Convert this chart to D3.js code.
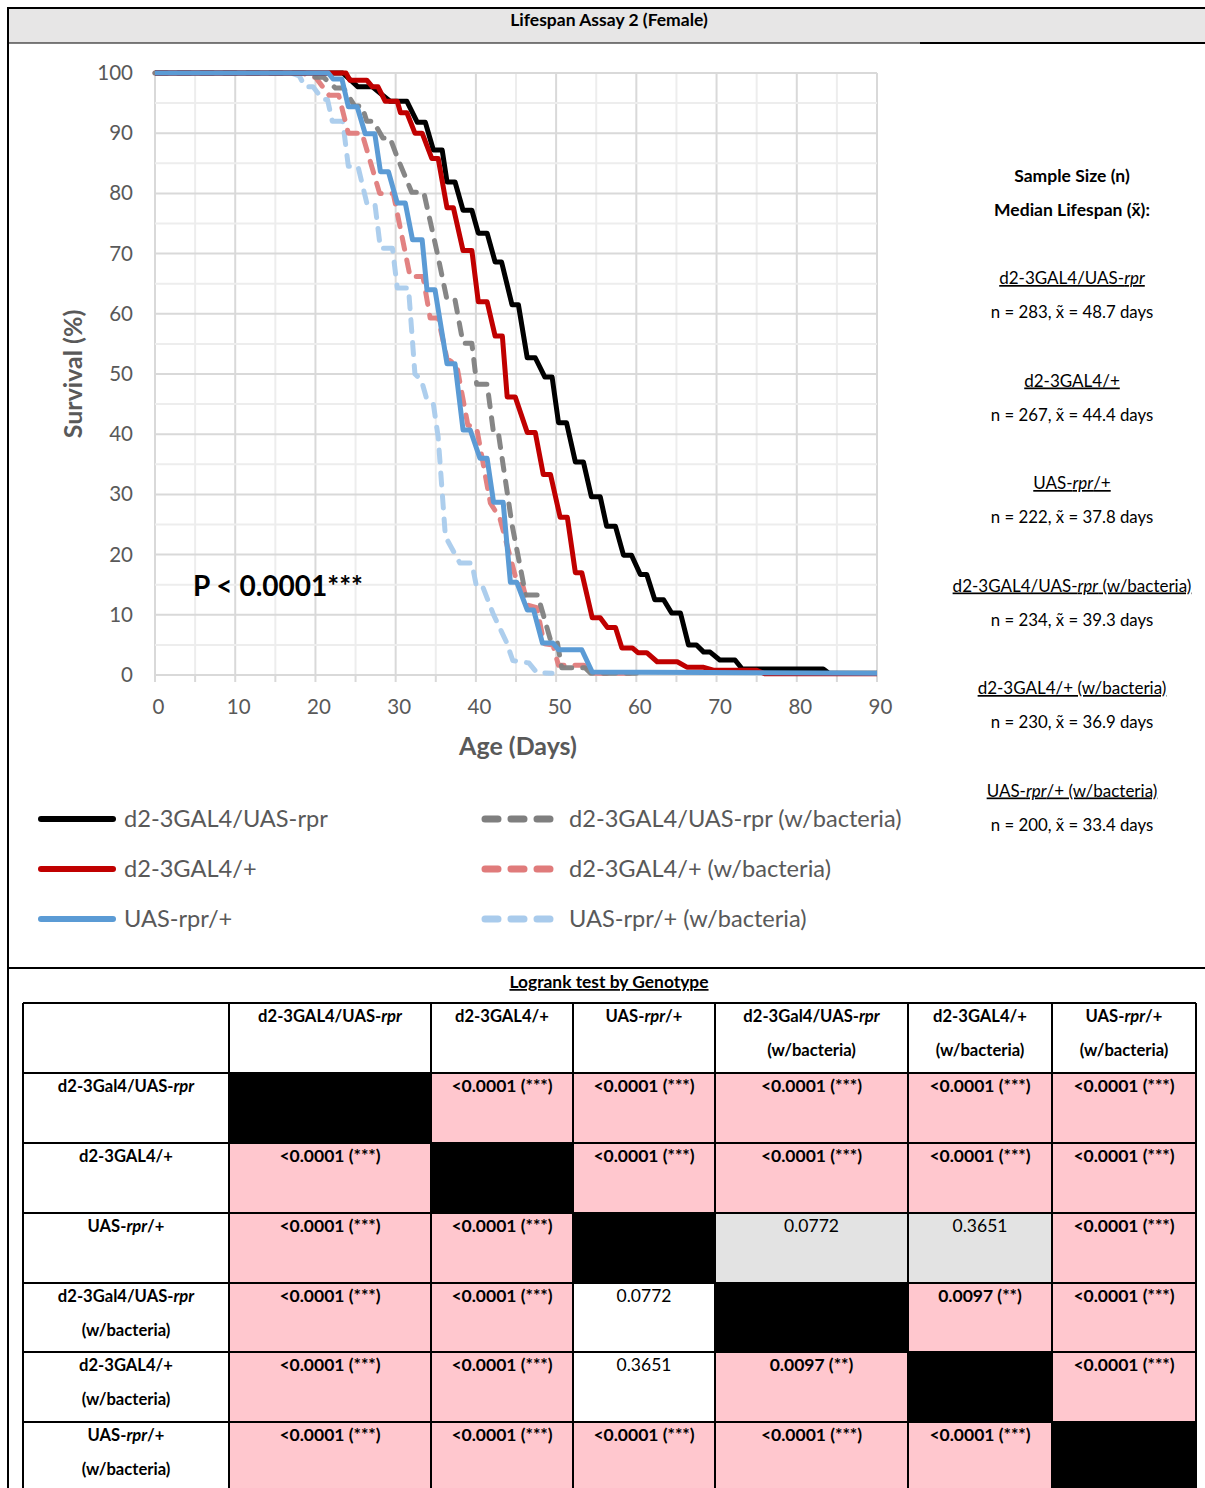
<!DOCTYPE html>
<html><head><meta charset="utf-8">
<script src="https://cdn.jsdelivr.net/npm/d3@7"></script>
<style>
body{margin:0;background:#fff;}
svg{display:block;font-family:Lato,"Open Sans",sans-serif;}
</style></head>
<body><svg id="c" width="1205" height="1488"></svg>
<script>
// ---------- DATA ----------
const title = "Lifespan Assay 2 (Female)";
const xTicks = [0,10,20,30,40,50,60,70,80,90];
const yTicks = [0,10,20,30,40,50,60,70,80,90,100];
const pLabel = "P < 0.0001***";

// survival curves [day, survival %]
const rprCurve = [[0,100],[23.4,100],[25.3,97.7],[27.1,97.7],[29.3,95.3],[31.4,95.3],[32.7,91.8],[33.7,91.8],[34.7,87.2],[35.8,87.2],[36.4,81.9],[37.4,81.9],[38.4,77.2],[39.5,77.2],[40.3,73.4],[41.4,73.4],[42.4,68.6],[43.2,68.6],[44.5,61.5],[45.3,61.5],[46.4,52.7],[47.4,52.7],[48.6,49.5],[49.5,49.5],[50.3,41.9],[51.3,41.9],[52.4,35.4],[53.4,35.4],[54.4,29.6],[55.5,29.6],[56.3,24.7],[57.4,24.7],[58.4,19.9],[59.4,19.9],[60.5,16.7],[61.3,16.7],[62.3,12.5],[63.4,12.5],[64.4,10.3],[65.5,10.3],[66.5,5.0],[67.5,5.0],[68.4,3.8],[69.2,3.8],[70.4,2.5],[72.3,2.5],[73.2,1.0],[83.3,1.0],[84.0,0.3],[90,0.3]];
const gal4Curve = [[0,100],[23.8,100],[24.3,98.8],[26.4,98.8],[27.1,97.7],[27.8,97.7],[28.7,95.3],[30.2,95.3],[30.6,93.4],[31.4,93.4],[32.4,90.0],[33.3,90.0],[34.5,85.8],[35.3,85.8],[36.4,77.6],[37.2,77.6],[38.4,70.5],[39.5,70.5],[40.3,62.0],[41.4,62.0],[42.4,56.3],[43.3,56.3],[43.9,46.2],[44.9,46.2],[46.4,40.3],[47.4,40.3],[48.4,33.3],[49.3,33.3],[50.5,26.2],[51.4,26.2],[52.4,17.0],[53.2,17.0],[54.5,9.5],[55.5,9.5],[56.4,7.9],[57.4,7.9],[58.2,4.5],[59.5,4.5],[60.2,3.7],[61.3,3.7],[62.6,2.2],[65.1,2.2],[66.3,1.3],[68.3,1.3],[69.6,0.8],[75,0.8],[76,0.2],[90,0.2]];
const uasCurve = [[0,100],[21.6,100],[22.2,99.0],[23.3,99.0],[24.1,94.4],[25.2,94.4],[26.2,89.9],[27.4,89.9],[28.1,83.6],[29.1,83.6],[30.2,78.4],[31.2,78.4],[32.1,72.3],[33.3,72.3],[33.9,64.0],[34.9,64.0],[36.4,51.7],[37.4,51.7],[38.4,40.7],[39.3,40.7],[40.5,36.0],[41.4,36.0],[42.2,28.7],[43.4,28.7],[44.3,15.4],[45.1,15.4],[46.4,10.8],[47.2,10.8],[48.3,5.3],[49.6,5.3],[50.3,4.2],[53.2,4.2],[54.5,0.5],[90,0.3]];
const rprBactCurve = [[0,100],[19.0,100],[20.0,99.3],[21.0,99.3],[22.5,97.5],[23.5,97.5],[24.9,94.5],[25.8,94.5],[26.4,92.0],[27.2,92.0],[28.4,89.2],[29.3,89.2],[30.2,86.0],[32.0,80.2],[33.5,80.2],[35.2,70.0],[36.4,62.3],[37.4,62.3],[38.4,55.1],[39.5,55.1],[40.1,48.3],[41.4,48.3],[42.2,40.2],[42.8,40.2],[44.5,25.0],[46.2,13.3],[47.7,13.3],[49.3,5.8],[50.1,5.8],[50.7,1.2],[53.6,1.2],[54.3,0.3],[60,0.3]];
const gal4BactCurve = [[0,100],[18.5,100],[19.3,99.3],[20.0,99.3],[21.7,96.3],[22.9,96.3],[24.1,90.0],[25.8,90.0],[28.0,80.0],[29.7,80.0],[31.8,66.2],[33.4,66.2],[34.3,59.3],[35.3,59.3],[36.4,52.5],[37.6,51.5],[39.0,41.5],[40.1,41.0],[41.8,28.6],[43.0,26.0],[45.1,15.5],[45.9,14.6],[46.5,11.6],[47.6,11.2],[48.5,5.2],[49.6,5.0],[50.3,1.6],[53.5,1.6],[54.5,0.3],[60,0.3]];
const uasBactCurve = [[0,100],[17.0,100],[18.0,99.5],[18.7,97.7],[19.7,97.7],[20.9,95.6],[21.5,95.6],[22.1,92.0],[23.4,92.0],[24.1,84.5],[25.3,84.5],[26.4,78.4],[27.4,78.4],[28.1,70.9],[29.6,70.9],[30.2,64.3],[31.6,64.3],[32.4,50.0],[33.2,49.0],[33.9,45.7],[34.7,45.0],[35.3,39.5],[36.2,23.0],[38.0,18.6],[39.5,18.6],[40.1,14.5],[40.9,14.5],[42.2,10.0],[43.8,5.5],[44.6,2.4],[46.6,2.0],[47.6,0.4],[49.5,0.3]];

const seriesNames = ["d2-3GAL4/UAS-rpr","d2-3GAL4/+","UAS-rpr/+","d2-3GAL4/UAS-rpr (w/bacteria)","d2-3GAL4/+ (w/bacteria)","UAS-rpr/+ (w/bacteria)"];
const seriesData = [rprCurve, gal4Curve, uasCurve, rprBactCurve, gal4BactCurve, uasBactCurve];
const seriesColors = ["#000000","#c00000","#5b9bd5","#7f7f7f","#e07b7b","#a9cbec"];
const seriesDashed = [false,false,false,true,true,true];

// sample sizes / medians
const infoNames = ["d2-3GAL4/UAS-rpr","d2-3GAL4/+","UAS-rpr/+","d2-3GAL4/UAS-rpr (w/bacteria)","d2-3GAL4/+ (w/bacteria)","UAS-rpr/+ (w/bacteria)"];
const infoN = [283,267,222,234,230,200];
const infoMedian = ["48.7","44.4","37.8","39.3","36.9","33.4"];

// logrank table
const tableTitle = "Logrank test by Genotype";
const colLabels = [["d2-3GAL4/UAS-rpr"],["d2-3GAL4/+"],["UAS-rpr/+"],["d2-3Gal4/UAS-rpr","(w/bacteria)"],["d2-3GAL4/+","(w/bacteria)"],["UAS-rpr/+","(w/bacteria)"]];
const rowLabels = [["d2-3Gal4/UAS-rpr"],["d2-3GAL4/+"],["UAS-rpr/+"],["d2-3Gal4/UAS-rpr","(w/bacteria)"],["d2-3GAL4/+","(w/bacteria)"],["UAS-rpr/+","(w/bacteria)"]];
const S = "<0.0001 (***)";
const pValues = [
  [null, S, S, S, S, S],
  [S, null, S, S, S, S],
  [S, S, null, "0.0772", "0.3651", S],
  [S, S, "0.0772", null, "0.0097 (**)", S],
  [S, S, "0.3651", "0.0097 (**)", null, S],
  [S, S, S, S, S, null]
];

// ---------- DRAW ----------
const svg = d3.select("#c");
const grayText = "#595959";

function richText(sel, str, italicRpr){
  const parts = italicRpr ? str.split(/(rpr)/) : [str];
  parts.forEach(p => { if(p==="") return; const t = sel.append("tspan").text(p); if(italicRpr && p==="rpr") t.attr("font-style","italic"); });
}

// frame
svg.append("rect").attr("x",8).attr("y",8).attr("width",1197).attr("height",35).attr("fill","#e7e6e6");
svg.append("line").attr("x1",7).attr("x2",1205).attr("y1",8).attr("y2",8).attr("stroke","#000").attr("stroke-width",2);
svg.append("line").attr("x1",8).attr("x2",8).attr("y1",7).attr("y2",1488).attr("stroke","#000").attr("stroke-width",2);
svg.append("line").attr("x1",8).attr("x2",920).attr("y1",43).attr("y2",43).attr("stroke","#000").attr("stroke-width",1);
svg.append("line").attr("x1",920).attr("x2",1205).attr("y1",43).attr("y2",43).attr("stroke","#000").attr("stroke-width",2);
svg.append("line").attr("x1",8).attr("x2",1205).attr("y1",968).attr("y2",968).attr("stroke","#000").attr("stroke-width",2);
svg.append("text").attr("x",609).attr("y",26).attr("text-anchor","middle").attr("font-weight","bold").attr("font-size",17.5).text(title);

// scales
const x = d3.scaleLinear().domain([0,90]).range([155,877]);
const y = d3.scaleLinear().domain([0,100]).range([675,73]);

// grid
const gx = d3.range(0,91,5), gy = d3.range(0,101,5);
svg.append("g").selectAll("line").data(gx).join("line")
  .attr("x1",d=>x(d)).attr("x2",d=>x(d)).attr("y1",y(100)).attr("y2",y(0))
  .attr("stroke",d=>d%10===0?"#d9d9d9":"#ededed").attr("stroke-width",2);
svg.append("g").selectAll("line").data(gy).join("line")
  .attr("x1",x(0)).attr("x2",x(90)).attr("y1",d=>y(d)).attr("y2",d=>y(d))
  .attr("stroke",d=>d%10===0?"#d9d9d9":"#ededed").attr("stroke-width",2);
svg.append("g").selectAll("line").data(gx).join("line")
  .attr("x1",d=>x(d)).attr("x2",d=>x(d)).attr("y1",y(0)).attr("y2",y(0)+7)
  .attr("stroke","#d9d9d9").attr("stroke-width",2);

const yAxis = svg.append("g").attr("transform","translate(139,0)")
  .call(d3.axisLeft(y).tickValues(yTicks).tickSize(0).tickPadding(6));
yAxis.select(".domain").remove();
yAxis.selectAll("text").attr("font-family","Lato").attr("font-size",20.5).attr("fill",grayText);
const xAxis = svg.append("g").attr("transform","translate(3,"+(y(0)+24)+")")
  .call(d3.axisBottom(x).tickValues(xTicks).tickSize(0).tickPadding(0));
xAxis.select(".domain").remove();
xAxis.selectAll("text").attr("font-family","Lato").attr("font-size",20.5).attr("fill",grayText);

svg.append("text").attr("x",518).attr("y",755).attr("text-anchor","middle").attr("font-weight","bold").attr("font-size",25).attr("fill",grayText).text("Age (Days)");
svg.append("text").attr("transform","translate(82,374) rotate(-90)").attr("text-anchor","middle").attr("font-weight","bold").attr("font-size",25).attr("fill",grayText).text("Survival (%)");

// curves
const line = d3.line().x(d=>x(d[0])).y(d=>y(d[1]));
const drawOrder = [5,4,3,0,1,2];
drawOrder.forEach(i=>{
  svg.append("path").datum(seriesData[i]).attr("d",line)
    .attr("fill","none").attr("stroke",seriesColors[i]).attr("stroke-width",5)
    .attr("stroke-linejoin","round")
    .attr("stroke-linecap",seriesDashed[i]?"round":"butt")
    .attr("stroke-dasharray",seriesDashed[i]?"12 11":null)
    .attr("opacity",seriesDashed[i]?0.95:1);
});

svg.append("text").attr("x",193).attr("y",596).attr("font-weight","bold").attr("font-size",28).attr("fill","#000").text(pLabel);

// legend
const legX = [38,482], legY = [819,869,919];
seriesNames.forEach((n,i)=>{
  const col = i<3?0:1, row = i%3;
  const lx = legX[col];
  if(!seriesDashed[i]){
    svg.append("line").attr("x1",lx+3).attr("x2",lx+75).attr("y1",legY[row]).attr("y2",legY[row])
      .attr("stroke",seriesColors[i]).attr("stroke-width",6).attr("stroke-linecap","round");
  } else {
    svg.append("line").attr("x1",lx+3).attr("x2",lx+72).attr("y1",legY[row]).attr("y2",legY[row])
      .attr("stroke",seriesColors[i]).attr("stroke-width",7).attr("stroke-linecap","round").attr("stroke-dasharray","13 13");
  }
  svg.append("text").attr("x",col===0?124:569).attr("y",legY[row]+8).attr("font-size",23.6).attr("fill",grayText).text(n);
});

// right info panel
const ix = 1072;
svg.append("text").attr("x",ix).attr("y",182).attr("text-anchor","middle").attr("font-weight","bold").attr("font-size",17.5).text("Sample Size (n)");
svg.append("text").attr("x",ix).attr("y",216).attr("text-anchor","middle").attr("font-weight","bold").attr("font-size",17.5).text("Median Lifespan (x\u0303):");
infoNames.forEach((n,i)=>{
  const yy = 284 + i*102.5;
  const t = svg.append("text").attr("x",ix).attr("y",yy).attr("text-anchor","middle").attr("font-size",17).attr("text-decoration","underline");
  richText(t, n, true);
  svg.append("text").attr("x",ix).attr("y",yy+34).attr("text-anchor","middle").attr("font-size",16.8)
    .text("n = "+infoN[i]+", x\u0303 = "+infoMedian[i]+" days");
});

// table
svg.append("text").attr("x",609).attr("y",988).attr("text-anchor","middle").attr("font-weight","bold").attr("font-size",17.4).attr("text-decoration","underline").text(tableTitle);
const colX = [23,229,431,573,715,908,1052,1196];
const rowY = [1003,1073,1143,1213,1283,1352,1422,1492];
const tg = svg.append("g");
pValues.forEach((row,r)=>{
  row.forEach((v,c)=>{
    const x0 = colX[c+1], x1 = colX[c+2], y0 = rowY[r+1], y1 = rowY[r+2];
    let fill;
    if(v===null) fill = "#000";
    else if(v.indexOf("*")>=0) fill = "#ffc7ce";
    else fill = (c>r) ? "#e3e3e3" : "#ffffff";
    tg.append("rect").attr("x",x0).attr("y",y0).attr("width",x1-x0).attr("height",y1-y0).attr("fill",fill);
    if(v!==null){
      tg.append("text").attr("x",(x0+x1)/2).attr("y",y0+19).attr("text-anchor","middle").attr("font-size",17.5)
        .attr("font-weight",v.indexOf("*")>=0?"bold":"normal").text(v);
    }
  });
});
colLabels.forEach((lbl,c)=>{
  lbl.forEach((s,k)=>{
    const t = tg.append("text").attr("x",(colX[c+1]+colX[c+2])/2).attr("y",rowY[0]+19+k*34).attr("text-anchor","middle").attr("font-size",16.6).attr("font-weight","bold");
    richText(t,s,true);
  });
});
rowLabels.forEach((lbl,r)=>{
  lbl.forEach((s,k)=>{
    const t = tg.append("text").attr("x",(colX[0]+colX[1])/2).attr("y",rowY[r+1]+19+k*34).attr("text-anchor","middle").attr("font-size",16.6).attr("font-weight","bold");
    richText(t,s,true);
  });
});
colX.forEach(cx=>tg.append("line").attr("x1",cx).attr("x2",cx).attr("y1",rowY[0]).attr("y2",1488).attr("stroke","#000").attr("stroke-width",2));
rowY.slice(0,7).forEach(ry=>tg.append("line").attr("x1",colX[0]).attr("x2",colX[7]).attr("y1",ry).attr("y2",ry).attr("stroke","#000").attr("stroke-width",2));
</script></body></html>
